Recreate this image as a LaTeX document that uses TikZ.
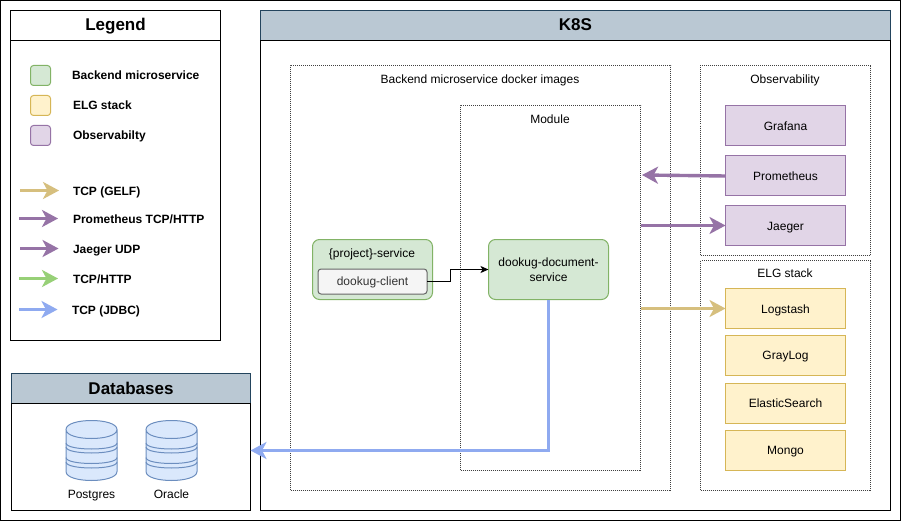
\documentclass[tikz,border=0pt]{standalone}
\usepackage{fontspec}
\setmainfont{Liberation Sans}
\usetikzlibrary{positioning,calc,arrows.meta}

\definecolor{greenfill}{HTML}{D5E8D4}
\definecolor{greenline}{HTML}{82B366}
\definecolor{yellowfill}{HTML}{FFF2CC}
\definecolor{yellowline}{HTML}{D6B656}
\definecolor{purplefill}{HTML}{E1D5E7}
\definecolor{purpleline}{HTML}{9673A6}
\definecolor{headfill}{HTML}{BAC8D3}
\definecolor{headline}{HTML}{23445D}
\definecolor{dbfill}{HTML}{DAE8FC}
\definecolor{dbline}{HTML}{6C8EBF}
\definecolor{tcpgelf}{HTML}{D6BF7E}
\definecolor{tcphttp}{HTML}{97D077}
\definecolor{tcpjdbc}{HTML}{8FAAF0}

\begin{document}
\begin{tikzpicture}[x=1pt,y=-1pt,
			every node/.style={inner sep=0pt, outer sep=0pt, text height=9.6pt, text depth=0pt, font=\fontsize{12}{14}\selectfont},
			panel/.style={rectangle, draw=black, fill=white, line width=1pt},
			headbar/.style={rectangle, draw=headline, fill=headfill, line width=1pt, text height=12.5pt, text depth=1.5pt, font=\fontsize{17}{20}\selectfont\bfseries},
			legendbar/.style={rectangle, draw=black, fill=white, line width=1pt, text height=12.5pt, text depth=1.5pt, font=\fontsize{17}{20}\selectfont\bfseries},
			group/.style={rectangle, draw=black!75, line width=0.8pt, dash pattern=on 1pt off 1pt, minimum width=#1},
			obsbox/.style={rectangle, draw=purpleline, fill=purplefill, line width=1pt, minimum width=120pt, minimum height=40pt},
			elgbox/.style={rectangle, draw=yellowline, fill=yellowfill, line width=1pt, minimum width=120pt, minimum height=40pt},
			servicebox/.style={rectangle, rounded corners=7pt, draw=greenline, fill=greenfill, line width=1pt, minimum width=120pt, minimum height=60pt, align=center, text height=, text depth=},
			clientbox/.style={rectangle, rounded corners=3pt, draw=black!60, fill=black!4, text=black!80, line width=1pt, minimum width=109pt, minimum height=25pt, text height=8.8pt, text depth=0.6pt},
			swatch/.style={rectangle, rounded corners=3pt, line width=1pt, minimum size=20pt},
			legendtext/.style={anchor=west, font=\fontsize{12}{14}\selectfont\bfseries},
			flow/.style={line width=3.4pt, -{Stealth[length=16pt, width=17pt, inset=4.5pt]}},
			dbstack/.pic={
				\draw[draw=dbline, fill=dbfill, line width=1pt] (-25.5,9) -- (-25.5,51) .. controls (-25.5,63) and (25.5,63) .. (25.5,51) -- (25.5,9)
					.. controls (25.5,-3) and (-25.5,-3) .. (-25.5,9) .. controls (-25.5,21) and (25.5,21) .. (25.5,9);
				\foreach \bandy in {22.5,26.5,37,41.5}
					\draw[draw=dbline, line width=1pt] (-25.5,\bandy) .. controls (-25.5,\bandy+8) and (25.5,\bandy+8) .. (25.5,\bandy);
			}]
			\useasboundingbox (0,0) rectangle (901,521);
			\node[panel, minimum width=900pt, minimum height=520pt, anchor=north west] (frame) at (0.5,0.5) {};

			% legend
			\node[legendbar, minimum width=210pt, minimum height=30pt, anchor=north west] (legendhead) at (10.5,10.5) {Legend};
			\node[panel, minimum width=210pt, minimum height=300pt, below=0pt of legendhead] (legendbody) {};
			\node[swatch, draw=greenline, fill=greenfill] (swatchgreen) at (40.5,75.5) {};
			\node[swatch, draw=yellowline, fill=yellowfill, below=10pt of swatchgreen] (swatchyellow) {};
			\node[swatch, draw=purpleline, fill=purplefill, below=10pt of swatchyellow] (swatchpurple) {};
			\node[legendtext] (textgreen) at (72,75) {Backend microservice};
			\node[legendtext] (textyellow) at (73,105) {ELG stack};
			\node[legendtext] (textpurple) at (73,135) {Observabilty};
			\node[legendtext] (textgelf) at (73,191) {TCP (GELF)};
			\node[legendtext] (textprom) at (73,219) {Prometheus TCP/HTTP};
			\node[legendtext] (textjaeger) at (73,249) {Jaeger UDP};
			\node[legendtext] (texthttp) at (73,279) {TCP/HTTP};
			\node[legendtext] (textjdbc) at (72,310) {TCP (JDBC)};
			\coordinate (gelfa) at (20,190.5);
			\coordinate (gelfb) at (59,190.5);
			\coordinate (proma) at (19,218.5);
			\coordinate (promb) at (58,218.5);
			\coordinate (jaegera) at (20,248.5);
			\coordinate (jaegerb) at (58.5,248.5);
			\coordinate (httpa) at (19,278.5);
			\coordinate (httpb) at (58,278.5);
			\coordinate (jdbca) at (19,309.5);
			\coordinate (jdbcb) at (57.5,309.5);
			\draw[flow, draw=tcpgelf] (gelfa) -- (gelfb);
			\draw[flow, draw=purpleline] (proma) -- (promb);
			\draw[flow, draw=purpleline] (jaegera) -- (jaegerb);
			\draw[flow, draw=tcphttp] (httpa) -- (httpb);
			\draw[flow, draw=tcpjdbc] (jdbca) -- (jdbcb);

			% databases
			\node[headbar, minimum width=239pt, minimum height=30pt, anchor=north west] (dbhead) at (11.5,373.5) {Databases};
			\node[panel, minimum width=239pt, minimum height=107pt, below=0pt of dbhead] (dbbody) {};
			\pic at (91.5,420.5) {dbstack};
			\pic at (171.5,420.5) {dbstack};
			\node (postgres) at (91.5,494) {Postgres};
			\node (oracle) at (171.5,494) {Oracle};

			% k8s
			\node[headbar, minimum width=630pt, minimum height=30pt, anchor=north west] (k8shead) at (260.5,10.5) {K8S};
			\node[panel, minimum width=630pt, minimum height=470pt, below=0pt of k8shead] (k8sbody) {};

			\node[group=380pt, minimum height=425pt, anchor=north west] (images) at (290.5,65.5) {};
			\node[group=180pt, minimum height=365pt, anchor=north west] (module) at (460.5,105.5) {};
			\node[group=170pt, minimum height=190pt, anchor=north west] (observ) at (700.5,65.5) {};
			\node[group=170pt, minimum height=230pt, anchor=north west] (elg) at (700.5,260.5) {};
			\node (imagestitle) at (480,79) {Backend microservice docker images};
			\node (moduletitle) at (550,119) {Module};
			\node (observtitle) at (785,79) {Observability};
			\node (elgtitle) at (785,273) {ELG stack};

			\node[obsbox] (grafana) at (785.5,125.5) {Grafana};
			\node[obsbox, below=10.5pt of grafana] (prometheus) {Prometheus};
			\node[obsbox, below=9.5pt of prometheus] (jaeger) {Jaeger};
			\node[elgbox] (logstash) at (785.5,308.5) {Logstash};
			\node[elgbox, below=6.5pt of logstash] (graylog) {GrayLog};
			\node[elgbox, below=8pt of graylog] (elastic) {ElasticSearch};
			\node[elgbox, below=7pt of elastic] (mongo) {Mongo};

			\node[servicebox, anchor=north west] (projectsvc) at (312.5,239.5) {};
			\node (projecttitle) at (372,253) {\{project\}-service};
			\node[clientbox, anchor=north west] (client) at (318,269) {dookug-client};
			\node[servicebox, anchor=north west] (docsvc) at (488.5,239.5) {dookug-document-\\[1pt]service};

			\coordinate (elbow) at (450.5,269.5);
			\draw[black, line width=1pt, -{Stealth[length=8pt, width=7pt, inset=2pt]}] (client.east) -- (client.east -| elbow) -- (elbow) -- (docsvc.west);

			\coordinate (promend) at (642,175);
			\coordinate (dbelbow) at (docsvc.south |- 0,450.5);
			\draw[flow, draw=purpleline] (prometheus.west) -- (promend);
			\draw[flow, draw=purpleline] (module.east |- jaeger.west) -- (jaeger.west);
			\draw[flow, draw=tcpgelf] (module.east |- logstash.west) -- (logstash.west);
			\draw[flow, draw=tcpjdbc] (docsvc.south) -- (dbelbow) -- (dbelbow -| dbbody.east);
		\end{tikzpicture}
\end{document}
